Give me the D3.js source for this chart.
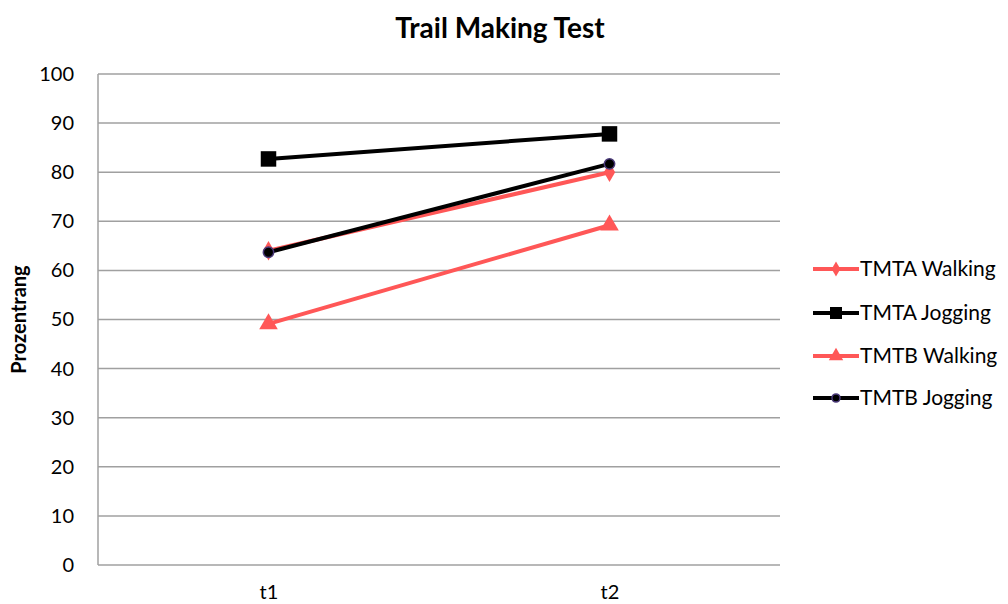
<!DOCTYPE html>
<html>
<head>
<meta charset="utf-8">
<script src="https://cdn.jsdelivr.net/npm/d3@7"></script>
<style>
  body { margin: 0; background: #fff; }
  svg text { font-family: Lato, "Open Sans", sans-serif; fill: #000; }
</style>
</head>
<body>
<div id="chart"></div>
<script>
const categories = ["t1", "t2"];
const yTicks = [0, 10, 20, 30, 40, 50, 60, 70, 80, 90, 100];
const seriesNames = ["TMTA Walking", "TMTA Jogging", "TMTB Walking", "TMTB Jogging"];
const tmtaWalking = [64, 80];
const tmtaJogging = [82.7, 87.8];
const tmtbWalking = [49.1, 69.2];
const tmtbJogging = [63.7, 81.7];

const width = 1008, height = 604;
const margin = { left: 98, right: 228, top: 74, bottom: 39 };

const series = [
    { name: seriesNames[0], values: tmtaWalking, color: "#ff5757", marker: d3.symbolDiamond, size: 110 },
    { name: seriesNames[1], values: tmtaJogging, color: "#000", marker: d3.symbolSquare, size: 240 },
    { name: seriesNames[2], values: tmtbWalking, color: "#ff5757", marker: d3.symbolTriangle, size: 150 },
    { name: seriesNames[3], values: tmtbJogging, color: "#000", marker: d3.symbolCircle, size: 85, stroke: "#4b3a7a" }
];

const svg = d3.select("#chart").append("svg")
    .attr("width", width)
    .attr("height", height);

const x = d3.scalePoint().domain(categories)
    .range([margin.left, width - margin.right]).padding(0.5);
const y = d3.scaleLinear().domain([0, 100])
    .range([height - margin.bottom, margin.top]);

// gridlines
svg.append("g")
    .selectAll("line")
    .data(yTicks)
    .join("line")
    .attr("x1", margin.left)
    .attr("x2", width - margin.right)
    .attr("y1", d => y(d))
    .attr("y2", d => y(d))
    .attr("stroke", "#a0a0a0")
    .attr("stroke-width", 1.5);

// left axis line
svg.append("line")
    .attr("x1", margin.left).attr("x2", margin.left)
    .attr("y1", y(100)).attr("y2", y(0))
    .attr("stroke", "#a0a0a0")
    .attr("stroke-width", 1.5);

// y axis labels
const yAxis = d3.axisLeft(y).tickValues(yTicks).tickSize(0).tickPadding(24);
svg.append("g")
    .attr("transform", `translate(${margin.left},0)`)
    .call(yAxis)
    .call(g => g.select(".domain").remove())
    .selectAll("text")
    .style("font-size", "20px")
    .style("font-family", "Lato, sans-serif");

// x axis labels
const xAxis = d3.axisBottom(x).tickSize(0).tickPadding(20);
svg.append("g")
    .attr("transform", `translate(0,${y(0)})`)
    .call(xAxis)
    .call(g => g.select(".domain").remove())
    .selectAll("text")
    .style("font-size", "20px")
    .style("font-family", "Lato, sans-serif");

// title
svg.append("text")
    .attr("x", 500)
    .attr("y", 38)
    .attr("text-anchor", "middle")
    .style("font-size", "28px")
    .style("font-weight", "bold")
    .text("Trail Making Test");

// y label
svg.append("text")
    .attr("transform", `translate(26,${(y(0) + y(100)) / 2}) rotate(-90)`)
    .attr("text-anchor", "middle")
    .style("font-size", "20px")
    .style("font-weight", "bold")
    .text("Prozentrang");

const line = d3.line()
    .x((d, i) => x(categories[i]))
    .y(d => y(d));

series.forEach(s => {
    svg.append("path")
        .datum(s.values)
        .attr("fill", "none")
        .attr("stroke", s.color)
        .attr("stroke-width", 4)
        .attr("d", line);

    svg.append("g")
        .selectAll("path")
        .data(s.values)
        .join("path")
        .attr("transform", (d, i) => `translate(${x(categories[i])},${y(d)})`)
        .attr("d", d3.symbol(s.marker, s.size))
        .attr("fill", s.color)
        .attr("stroke", s.stroke || "none")
        .attr("stroke-width", 1.5);
});

// legend
const legend = svg.append("g");
const legendY = [269, 313, 356, 398];
series.forEach((s, i) => {
    const g = legend.append("g").attr("transform", `translate(813,${legendY[i]})`);
    g.append("line")
        .attr("x1", 0).attr("x2", 46)
        .attr("stroke", s.color)
        .attr("stroke-width", 4);
    g.append("path")
        .attr("transform", "translate(23,0)")
        .attr("d", d3.symbol(s.marker, s.size * 0.6))
        .attr("fill", s.color)
        .attr("stroke", s.stroke || "none")
        .attr("stroke-width", 1.5);
    g.append("text")
        .attr("x", 47)
        .attr("y", 7)
        .style("font-size", "21px")
        .text(s.name);
});
</script>
</body>
</html>
